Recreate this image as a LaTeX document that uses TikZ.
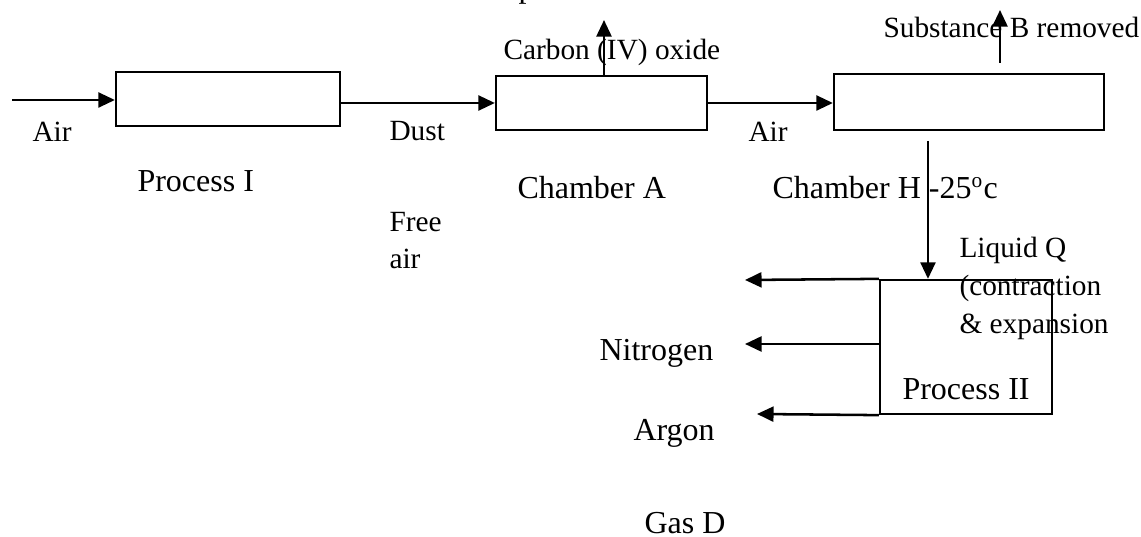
\documentclass[tikz,border=0pt]{standalone}
\usepackage{fontspec}
\setmainfont{Liberation Serif}
\usetikzlibrary{arrows.meta,positioning}
\tikzset{
	unitbox/.style={draw,line width=0.85pt,inner sep=0pt},
	flow/.style={line width=0.95pt,-{Triangle[length=6.2pt,width=5.6pt]}},
	smalltxt/.style={inner sep=0pt,anchor=base west,font=\fontsize{11}{13}\selectfont},
	bigtxt/.style={inner sep=0pt,anchor=base west,font=\fontsize{12}{14}\selectfont}
}
\begin{document}
\begin{tikzpicture}[x=0.375pt,y=0.375pt]
	\useasboundingbox (0,0) rectangle (1141,-537);
		\node[unitbox,minimum width=84pt,minimum height=20.25pt] (proc1) at (228,-99) {};
		\node[unitbox,minimum width=79.1pt,minimum height=20.25pt] (chamA) at (601.5,-103) {};
		\node[unitbox,minimum width=101.25pt,minimum height=21pt] (chamH) at (969,-102) {};
		\node[unitbox,minimum width=64.5pt,minimum height=50.25pt] (proc2) at (966,-347) {};
		\coordinate (airin) at (12,-100);
		\coordinate (co2out) at (604,-20);
		\coordinate (Bfrom) at (1000,-63);
		\coordinate (Bout) at (1000,-10);
		\coordinate (Qfrom) at (928,-141);
		\coordinate (out1) at (745,-280);
		\coordinate (out2) at (745,-344);
		\coordinate (out3) at (757,-414);
		\draw[flow] (airin) -- (airin -| proc1.west);
		\draw[flow] (proc1.east |- chamA.west) -- (chamA.west);
		\draw[flow] (chamA.east) -- (chamA.east -| chamH.west);
		\draw[flow] (chamA.north -| co2out) -- (co2out);
		\draw[flow] (Bfrom) -- (Bout);
		\draw[flow] (Qfrom) -- (Qfrom |- proc2.north);
		\draw[flow] (proc2.north west) -- (out1);
		\draw[flow] (proc2.west |- out2) -- (out2);
		\draw[flow] (proc2.south west) -- (out3);
		\node[bigtxt] (ptop) at (518,2) {p};
		\node[smalltxt] (co2) at (503,-60) {Carbon (IV) oxide};
		\node[smalltxt] (subB) at (883,-38) {Substance B removed};
		\node[smalltxt] (air1) at (32,-142) {Air};
		\node[smalltxt] (dust) at (389,-141) {Dust};
		\node[smalltxt] (air2) at (748,-142) {Air};
		\node[smalltxt] (free1) at (389,-232) {Free};
		\node[smalltxt] (free2) at (389,-269) {air};
		\node[bigtxt] (lproc1) at (137,-192) {Process I};
		\node[bigtxt] (lchamA) at (517,-199) {Chamber A};
		\node[bigtxt] (lchamH) at (772,-199) {Chamber H -25\textsuperscript{o}c};
		\node[smalltxt] (liq1) at (959,-258) {Liquid Q};
		\node[smalltxt] (liq2) at (959,-296) {(contraction};
		\node[smalltxt] (liq3) at (959,-334) {\& expansion};
		\node[bigtxt] (lproc2) at (902,-400) {Process II};
		\node[bigtxt] (nitro) at (599,-361) {Nitrogen};
		\node[bigtxt] (argon) at (633,-441) {Argon};
		\node[bigtxt] (gasD) at (644,-534) {Gas D};
\end{tikzpicture}
\end{document}
